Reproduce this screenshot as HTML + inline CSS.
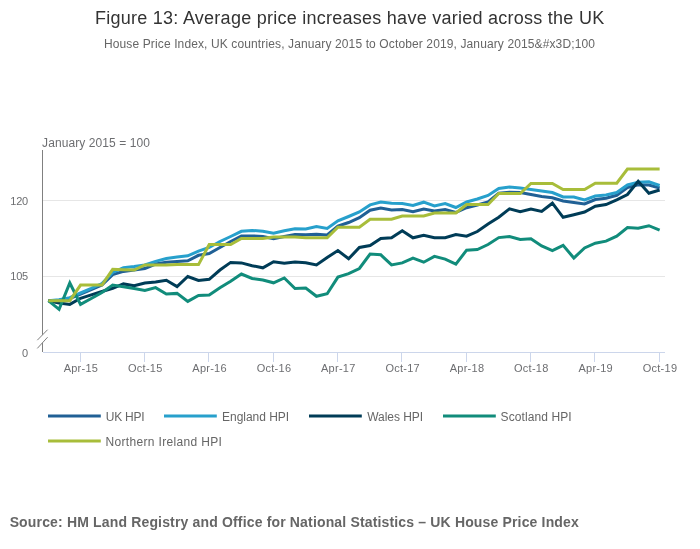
<!DOCTYPE html>
<html><head><meta charset="utf-8"><title>Figure 13</title>
<style>
html,body{margin:0;padding:0;background:#fff;}
body{width:700px;height:549px;overflow:hidden;font-family:"Liberation Sans",sans-serif;}
svg{display:block;}
text{font-family:"Liberation Sans",sans-serif;}
.t{font-size:18px;fill:#333;}
.st{font-size:12px;fill:#666;}
.ax{font-size:11px;fill:#6d6e71;}
.ax12{font-size:12px;fill:#6d6e71;}
.lg{font-size:12px;fill:#666;}
.src{font-size:14px;font-weight:bold;fill:#666;}
</style></head><body>
<svg width="700" height="549" viewBox="0 0 700 549">
<rect width="700" height="549" fill="#fff"/>
<text class="t" x="95.00" y="24" style="letter-spacing:0.258px">Figure 13: Average price increases have varied across the UK</text>
<text class="st" x="104.00" y="48" style="letter-spacing:0.120px">House Price Index, UK countries, January 2015 to October 2019, January 2015&amp;#x3D;100</text>
<text class="ax12" x="42.06" y="147" style="letter-spacing:0.087px">January 2015 = 100</text>
<path d="M43 200.5 H665" stroke="#e6e6e6" stroke-width="1" fill="none"/>
<path d="M43 276.5 H665" stroke="#e6e6e6" stroke-width="1" fill="none"/>
<path d="M43 352.5 H665" stroke="#ccd6eb" stroke-width="1" fill="none"/>
<path d="M80.5 352 V362" stroke="#ccd6eb" stroke-width="1" fill="none"/>
<text class="ax" x="80.9" y="372" text-anchor="middle" style="letter-spacing:0.25px">Apr-15</text>
<path d="M144.5 352 V362" stroke="#ccd6eb" stroke-width="1" fill="none"/>
<text class="ax" x="145.3" y="372" text-anchor="middle" style="letter-spacing:0.25px">Oct-15</text>
<path d="M208.5 352 V362" stroke="#ccd6eb" stroke-width="1" fill="none"/>
<text class="ax" x="209.6" y="372" text-anchor="middle" style="letter-spacing:0.25px">Apr-16</text>
<path d="M273.5 352 V362" stroke="#ccd6eb" stroke-width="1" fill="none"/>
<text class="ax" x="274.0" y="372" text-anchor="middle" style="letter-spacing:0.25px">Oct-16</text>
<path d="M337.5 352 V362" stroke="#ccd6eb" stroke-width="1" fill="none"/>
<text class="ax" x="338.3" y="372" text-anchor="middle" style="letter-spacing:0.25px">Apr-17</text>
<path d="M401.5 352 V362" stroke="#ccd6eb" stroke-width="1" fill="none"/>
<text class="ax" x="402.7" y="372" text-anchor="middle" style="letter-spacing:0.25px">Oct-17</text>
<path d="M466.5 352 V362" stroke="#ccd6eb" stroke-width="1" fill="none"/>
<text class="ax" x="467.0" y="372" text-anchor="middle" style="letter-spacing:0.25px">Apr-18</text>
<path d="M530.5 352 V362" stroke="#ccd6eb" stroke-width="1" fill="none"/>
<text class="ax" x="531.3" y="372" text-anchor="middle" style="letter-spacing:0.25px">Oct-18</text>
<path d="M594.5 352 V362" stroke="#ccd6eb" stroke-width="1" fill="none"/>
<text class="ax" x="595.7" y="372" text-anchor="middle" style="letter-spacing:0.25px">Apr-19</text>
<path d="M659.5 352 V362" stroke="#ccd6eb" stroke-width="1" fill="none"/>
<text class="ax" x="660.0" y="372" text-anchor="middle" style="letter-spacing:0.25px">Oct-19</text>
<path d="M42.5 150 V352" stroke="#808080" stroke-width="1" fill="none"/>
<path d="M37.3 340.2 L47.6 329.7 L47.6 337.2 L37.3 348.4 Z" fill="#fff" stroke="none"/>
<path d="M37.3 340.2 L47.6 329.7 M37.3 348.4 L47.6 337.2" stroke="#808080" stroke-width="1" fill="none"/>
<text class="ax" x="27.8" y="205.1" text-anchor="end" style="letter-spacing:-0.3px">120</text>
<text class="ax" x="27.8" y="280.3" text-anchor="end" style="letter-spacing:-0.3px">105</text>
<text class="ax" x="27.8" y="356.7" text-anchor="end" style="letter-spacing:-0.3px">0</text>
<path d="M48.36 300.70 L59.08 300.20 L69.81 298.50 L80.53 294.00 L91.26 289.60 L101.98 285.00 L112.70 274.60 L123.43 271.40 L134.15 270.00 L144.88 268.60 L155.60 264.00 L166.32 262.20 L177.05 261.50 L187.77 260.80 L198.50 255.30 L209.22 253.50 L219.94 247.50 L230.67 241.50 L241.39 236.10 L252.12 235.90 L262.84 236.50 L273.56 238.80 L284.29 236.50 L295.01 234.50 L305.74 234.80 L316.46 234.20 L327.18 235.00 L337.91 226.00 L348.63 222.50 L359.36 217.70 L370.08 210.20 L380.80 208.00 L391.53 210.00 L402.25 209.50 L412.98 211.60 L423.70 209.00 L434.42 211.00 L445.15 209.50 L455.87 212.50 L466.60 207.70 L477.32 205.00 L488.04 202.00 L498.77 193.20 L509.49 192.20 L520.22 192.50 L530.94 194.50 L541.66 196.50 L552.39 197.80 L563.11 201.00 L573.84 202.60 L584.56 204.00 L595.28 199.50 L606.01 198.20 L616.73 195.30 L627.46 187.50 L638.18 184.80 L648.90 185.00 L659.63 188.00" stroke="#206095" stroke-width="3" fill="none" stroke-linejoin="miter"/>
<path d="M48.36 300.70 L59.08 299.70 L69.81 297.60 L80.53 293.00 L91.26 288.40 L101.98 283.50 L112.70 272.50 L123.43 267.70 L134.15 266.60 L144.88 265.00 L155.60 261.40 L166.32 258.50 L177.05 257.00 L187.77 255.80 L198.50 251.20 L209.22 247.50 L219.94 241.50 L230.67 236.50 L241.39 231.30 L252.12 230.40 L262.84 231.30 L273.56 233.30 L284.29 230.80 L295.01 228.80 L305.74 229.00 L316.46 226.50 L327.18 228.50 L337.91 220.80 L348.63 216.50 L359.36 212.00 L370.08 204.90 L380.80 202.00 L391.53 203.20 L402.25 203.50 L412.98 205.50 L423.70 202.20 L434.42 206.00 L445.15 203.50 L455.87 207.50 L466.60 202.00 L477.32 199.00 L488.04 195.50 L498.77 188.50 L509.49 187.00 L520.22 188.00 L530.94 189.50 L541.66 191.00 L552.39 192.50 L563.11 197.00 L573.84 197.00 L584.56 200.00 L595.28 196.00 L606.01 195.00 L616.73 192.50 L627.46 185.00 L638.18 182.20 L648.90 181.80 L659.63 185.50" stroke="#27a0cc" stroke-width="3" fill="none" stroke-linejoin="miter"/>
<path d="M48.36 300.70 L59.08 303.00 L69.81 304.40 L80.53 298.30 L91.26 294.90 L101.98 291.50 L112.70 288.30 L123.43 283.90 L134.15 285.70 L144.88 283.10 L155.60 282.00 L166.32 280.30 L177.05 286.60 L187.77 276.50 L198.50 280.50 L209.22 279.30 L219.94 270.00 L230.67 262.40 L241.39 262.90 L252.12 265.70 L262.84 267.80 L273.56 261.70 L284.29 263.20 L295.01 262.00 L305.74 262.70 L316.46 265.00 L327.18 257.50 L337.91 250.50 L348.63 258.80 L359.36 247.50 L370.08 245.50 L380.80 238.50 L391.53 237.70 L402.25 230.70 L412.98 237.80 L423.70 235.20 L434.42 237.80 L445.15 237.80 L455.87 234.60 L466.60 236.20 L477.32 231.50 L488.04 224.00 L498.77 217.30 L509.49 208.80 L520.22 211.60 L530.94 209.00 L541.66 211.50 L552.39 203.20 L563.11 217.30 L573.84 214.70 L584.56 212.00 L595.28 206.20 L606.01 204.50 L616.73 199.80 L627.46 194.50 L638.18 181.20 L648.90 193.20 L659.63 190.00" stroke="#003c57" stroke-width="3" fill="none" stroke-linejoin="miter"/>
<path d="M48.36 300.70 L59.08 309.30 L69.81 283.00 L80.53 304.40 L91.26 298.50 L101.98 292.50 L112.70 285.00 L123.43 286.80 L134.15 288.60 L144.88 290.50 L155.60 287.60 L166.32 294.00 L177.05 293.40 L187.77 301.40 L198.50 295.50 L209.22 295.00 L219.94 287.80 L230.67 281.20 L241.39 274.00 L252.12 278.50 L262.84 280.00 L273.56 282.80 L284.29 278.00 L295.01 288.50 L305.74 288.00 L316.46 296.30 L327.18 293.80 L337.91 277.10 L348.63 273.70 L359.36 268.50 L370.08 254.00 L380.80 254.80 L391.53 264.90 L402.25 262.90 L412.98 258.20 L423.70 262.20 L434.42 256.40 L445.15 259.10 L455.87 264.10 L466.60 250.20 L477.32 249.50 L488.04 244.50 L498.77 237.60 L509.49 236.50 L520.22 239.50 L530.94 238.80 L541.66 246.00 L552.39 250.60 L563.11 245.40 L573.84 258.00 L584.56 248.00 L595.28 243.20 L606.01 241.10 L616.73 236.10 L627.46 227.50 L638.18 228.30 L648.90 225.70 L659.63 230.20" stroke="#118c7b" stroke-width="3" fill="none" stroke-linejoin="miter"/>
<path d="M48.36 300.70 L59.08 300.70 L69.81 300.70 L80.53 285.10 L91.26 285.10 L101.98 285.10 L112.70 269.30 L123.43 269.70 L134.15 270.10 L144.88 265.00 L155.60 265.00 L166.32 265.00 L177.05 264.60 L187.77 264.60 L198.50 264.60 L209.22 244.50 L219.94 244.50 L230.67 244.50 L241.39 238.50 L252.12 238.50 L262.84 238.50 L273.56 237.10 L284.29 237.10 L295.01 237.10 L305.74 237.70 L316.46 237.70 L327.18 237.70 L337.91 227.20 L348.63 227.20 L359.36 227.20 L370.08 219.20 L380.80 219.20 L391.53 219.20 L402.25 216.00 L412.98 216.00 L423.70 216.00 L434.42 213.00 L445.15 213.00 L455.87 213.00 L466.60 204.50 L477.32 204.50 L488.04 204.50 L498.77 193.50 L509.49 193.50 L520.22 193.50 L530.94 183.50 L541.66 183.50 L552.39 183.50 L563.11 189.50 L573.84 189.50 L584.56 189.50 L595.28 183.20 L606.01 183.20 L616.73 183.20 L627.46 169.00 L638.18 169.00 L648.90 169.00 L659.63 169.00" stroke="#a8bd3a" stroke-width="3" fill="none" stroke-linejoin="miter"/>
<path d="M48 416 h52.8" stroke="#206095" stroke-width="3" fill="none"/>
<text class="lg" x="105.78" y="420.6" style="letter-spacing:-0.248px">UK HPI</text>
<path d="M164 416 h52.8" stroke="#27a0cc" stroke-width="3" fill="none"/>
<text class="lg" x="222.00" y="420.6" style="letter-spacing:-0.024px">England HPI</text>
<path d="M309 416 h52.8" stroke="#003c57" stroke-width="3" fill="none"/>
<text class="lg" x="367.18" y="420.6" style="letter-spacing:-0.032px">Wales HPI</text>
<path d="M443 416 h52.8" stroke="#118c7b" stroke-width="3" fill="none"/>
<text class="lg" x="500.58" y="420.6" style="letter-spacing:0.094px">Scotland HPI</text>
<path d="M48 441 h52.8" stroke="#a8bd3a" stroke-width="3" fill="none"/>
<text class="lg" x="105.54" y="445.6" style="letter-spacing:0.329px">Northern Ireland HPI</text>
<text class="src" x="9.63" y="527" style="letter-spacing:0.160px">Source: HM Land Registry and Office for National Statistics – UK House Price Index</text>
</svg>
</body></html>
